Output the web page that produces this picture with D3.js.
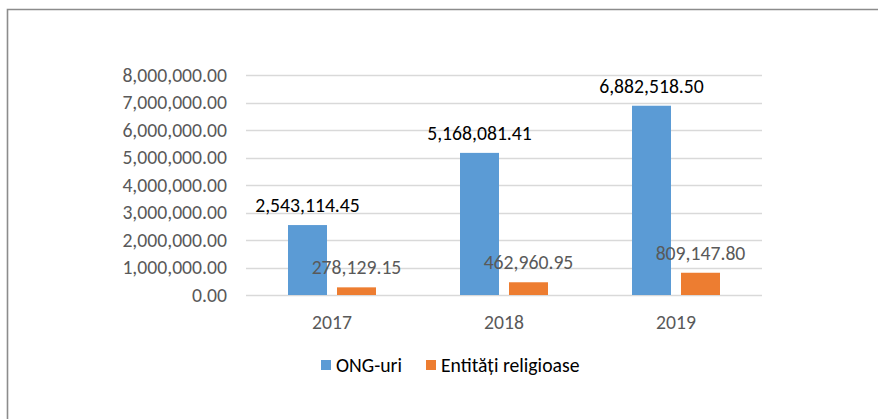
<!DOCTYPE html>
<html>
<head>
<meta charset="utf-8">
<script src="https://cdn.jsdelivr.net/npm/d3@7"></script>
<style>
html,body{margin:0;padding:0;background:#fff;}
svg{display:block;}
text{font-family:Carlito,Calibri,"Open Sans",sans-serif;}
</style>
</head>
<body>
<svg id="chart" width="878" height="419"></svg>
<script>
const categories = ["2017", "2018", "2019"];
const seriesNames = ["ONG-uri", "Entități religioase"];
const ongValues = [2543114.45, 5168081.41, 6882518.50];
const religValues = [278129.15, 462960.95, 809147.80];
const yTicks = [0, 1000000, 2000000, 3000000, 4000000, 5000000, 6000000, 7000000, 8000000];
const colors = ["#5b9bd5", "#ed7d31"];

(function(){
const svg = d3.select("#chart");
const W = 878, H = 419;
const pLeft = 246, pRight = 762, pTop = 75, pBottom = 295;
const fs = 19.7;

// frame
svg.append("path")
  .attr("d", `M7.5,${H} L7.5,9.5 L${W},9.5`)
  .attr("fill", "none").attr("stroke", "#8c8c8c").attr("stroke-width", 1.6);

const y = d3.scaleLinear().domain([0, 8000000]).range([pBottom, pTop]);
const x0 = d3.scaleBand().domain(categories).range([pLeft, pRight]).paddingInner(0).paddingOuter(0);
const fmt = d3.format(",.2f");

// gridlines
svg.append("g").selectAll("line").data(yTicks).join("line")
  .attr("x1", pLeft).attr("x2", pRight)
  .attr("y1", d => Math.round(y(d)) + 0.5).attr("y2", d => Math.round(y(d)) + 0.5)
  .attr("stroke", "#d9d9d9").attr("stroke-width", 1.3);

// y tick labels
svg.append("g").selectAll("text").data(yTicks).join("text")
  .attr("x", 227).attr("y", d => y(d))
  .attr("dy", "0.35em").attr("text-anchor", "end")
  .attr("fill", "#595959").attr("font-size", fs)
  .text(d => fmt(d));

const barW = 39, gap = 10;
const series = [ongValues, religValues];
series.forEach((vals, si) => {
  const g = svg.append("g");
  g.selectAll("rect").data(categories).join("rect")
    .attr("x", (c) => x0(c) + x0.bandwidth() / 2 + (si === 0 ? -(barW + gap / 2) : gap / 2))
    .attr("width", barW)
    .attr("y", (c, i) => y(vals[i]))
    .attr("height", (c, i) => y(0) - y(vals[i]))
    .attr("fill", colors[si]);
  g.selectAll("text").data(categories).join("text")
    .attr("x", (c) => x0(c) + x0.bandwidth() / 2 + (si === 0 ? -(barW / 2 + gap / 2) : (barW / 2 + gap / 2)))
    .attr("y", (c, i) => y(vals[i]) - 20)
    .attr("dy", "0.35em").attr("text-anchor", "middle")
    .attr("fill", si === 0 ? "#000000" : "#595959")
    .attr("font-size", fs)
    .text((c, i) => fmt(vals[i]));
});

// x labels
svg.append("g").selectAll("text").data(categories).join("text")
  .attr("x", c => x0(c) + x0.bandwidth() / 2)
  .attr("y", 322).attr("dy", "0.35em").attr("text-anchor", "middle")
  .attr("fill", "#595959").attr("font-size", fs)
  .text(c => c);

// legend
const legendX = [321, 426];
const lg = svg.append("g");
seriesNames.forEach((n, i) => {
  lg.append("rect").attr("x", legendX[i]).attr("y", 360).attr("width", 10).attr("height", 10).attr("fill", colors[i]);
  lg.append("text").attr("x", legendX[i] + 15).attr("y", 365).attr("dy", "0.35em")
    .attr("fill", "#000").attr("font-size", fs).text(n);
});
})();
</script>
</body>
</html>
